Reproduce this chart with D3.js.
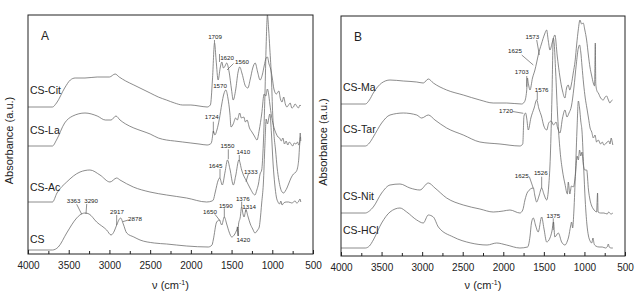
<!DOCTYPE html>
<html><head><meta charset="utf-8">
<script src="https://cdn.jsdelivr.net/npm/d3@7"></script>
<style>body{margin:0;background:#fff}svg{display:block}text{font-family:"Liberation Sans",Arial,sans-serif;fill:#222}</style>
</head><body><svg id="c" width="642" height="302"></svg>
<script>
// ---------- DATA ----------
const tickValues = [4000,3500,3000,2500,2000,1500,1000,500];
const minorTickValues = [3750,3250,2750,2250,1750,1250,750];
const seriesNamesA = ["CS-Cit","CS-La","CS-Ac","CS"];
const seriesNamesB = ["CS-Ma","CS-Tar","CS-Nit","CS-HCl"];

// [wavenumber cm-1, absorbance a.u. (offset-stacked)]
const csCit = [[4000,147],[3700,147],[3650,151],[3550,166],[3480,174],[3420,176],[3300,176],[3150,177],[3000,177],[2930,180],[2880,177],[2800,173],[2700,169],[2600,165],[2500,161],[2400,157],[2300,154],[2200,151],[2100,149],[2000,149],[1900,148],[1800,147],[1760,149],[1735,174],[1709,211],[1690,194],[1665,174],[1640,186],[1620,192],[1600,186],[1580,188],[1560,191],[1530,182],[1500,164],[1480,154],[1450,164],[1420,182],[1400,187],[1370,180],[1330,168],[1300,166],[1270,175],[1240,186],[1210,191],[1180,182],[1150,174],[1120,180],[1100,188],[1075,196],[1060,197],[1040,190],[1020,185],[1000,176],[980,165],[950,160],[920,163],[900,155],[880,152],[860,157],[840,150],[820,147],[800,149],[780,151],[760,146],[740,147],[720,150],[700,148],[680,146],[660,149],[650,148]];
const csLa = [[4000,108],[3700,108],[3650,114],[3550,131],[3450,138],[3300,141],[3150,138],[3050,134],[2980,134],[2920,138],[2870,134],[2800,130],[2700,126],[2600,123],[2500,120],[2400,116],[2300,114],[2200,113],[2100,112],[2000,111],[1900,110],[1800,109],[1760,110],[1745,112],[1730,120],[1724,123],[1705,119],[1680,124],[1650,135],[1620,150],[1595,160],[1570,164],[1545,156],[1520,140],[1507,127],[1480,130],[1450,136],[1430,134],[1400,141],[1380,136],[1350,137],[1330,132],[1310,134],[1280,126],[1250,122],[1220,118],[1188,114],[1160,124],[1130,140],[1100,160],[1080,158],[1060,165],[1045,160],[1030,150],[1010,138],[990,130],[970,124],[950,120],[930,117],[910,116],[890,113],[870,116],[850,110],[830,113],[810,109],[790,112],[770,110],[750,108],[730,111],[710,110],[690,112],[675,109],[665,111],[657,121],[650,113]];
const csAc = [[4000,52],[3700,52],[3644,61],[3525,72],[3361,82],[3239,84],[3116,79],[2993,72],[2911,76],[2870,74],[2707,67],[2502,62],[2297,59],[2052,56],[1806,52],[1740,53],[1725,54],[1700,62],[1663,74],[1645,76],[1614,69],[1580,82],[1550,94],[1520,85],[1478,69],[1450,78],[1410,94],[1376,84],[1350,78],[1323,74],[1274,66],[1213,59],[1190,64],[1170,70],[1150,80],[1130,84],[1110,110],[1090,160],[1075,210],[1060,239],[1045,225],[1030,205],[1010,175],[995,140],[980,120],[960,104],[940,86],[920,74],[900,66],[880,62],[860,61],[840,63],[820,66],[800,70],[770,76],[740,80],[710,82],[690,86],[675,95],[665,108],[655,117]];
const cs = [[4000,4],[3700,4],[3628,7],[3525,21],[3402,36],[3363,39],[3300,41],[3250,40],[3157,32],[3034,24],[2980,19],[2940,23],[2911,29],[2862,36],[2830,30],[2788,21],[2700,17],[2624,14],[2450,11],[2297,10],[2052,8],[1786,7],[1740,9],[1725,14],[1683,32],[1650,34],[1621,29],[1589,37],[1560,30],[1530,22],[1498,17],[1460,20],[1437,24],[1425,27],[1420,18],[1414,30],[1395,36],[1376,47],[1360,40],[1347,37],[1323,44],[1300,38],[1270,30],[1240,25],[1213,21],[1180,24],[1160,27],[1150,33],[1130,51],[1110,70],[1090,110],[1075,135],[1060,130],[1030,140],[1010,120],[990,90],[970,70],[950,57],[930,52],[910,50],[895,53],[880,49],[860,51],[830,52],[800,52],[760,51],[720,53],[700,51],[680,52],[660,55],[650,52]];

const csMa = [[4000,152],[3700,152],[3650,156],[3602,163],[3499,173],[3396,176],[3232,175],[3067,174],[2986,173],[2924,177],[2862,173],[2698,166],[2493,161],[2288,156],[2124,153],[1958,153],[1774,152],[1740,154],[1712,165],[1703,178],[1690,172],[1671,166],[1640,178],[1610,186],[1590,193],[1569,201],[1530,212],[1490,222],[1466,226],[1445,215],[1425,206],[1395,214],[1364,221],[1335,200],[1302,179],[1270,165],[1240,158],[1220,168],[1200,171],[1180,166],[1160,172],[1138,183],[1115,195],[1095,212],[1076,226],[1055,236],[1035,232],[1015,233],[995,226],[973,216],[950,200],[932,189],[910,180],[891,173],[875,170],[866,213],[860,172],[845,165],[829,163],[800,158],[768,156],[745,159],[727,160],[705,156],[686,153],[670,155],[653,156]];
const csTar = [[4000,110],[3700,110],[3650,113],[3602,119],[3499,133],[3396,141],[3232,143],[3067,141],[3006,138],[2924,141],[2842,136],[2698,128],[2493,121],[2288,114],[2041,112],[1795,110],[1760,112],[1745,140],[1725,143],[1710,137],[1692,126],[1660,138],[1620,148],[1589,156],[1560,147],[1530,140],[1500,130],[1465,126],[1440,133],[1410,135],[1380,131],[1350,134],[1330,128],[1302,123],[1270,138],[1240,146],[1215,139],[1190,143],[1160,150],[1130,168],[1100,192],[1075,208],[1060,211],[1045,204],[1030,190],[1010,172],[990,158],[970,148],[950,138],[930,128],[910,124],[890,118],[870,121],[850,114],[830,116],[800,112],[780,114],[760,111],[740,112],[720,114],[700,115],[685,112],[670,118],[660,115],[650,111]];
const csNit = [[4000,43],[3700,43],[3650,45],[3602,49],[3499,63],[3396,71],[3273,72],[3150,68],[3027,66],[2924,73],[2842,68],[2698,58],[2493,51],[2288,47],[2124,44],[2000,45],[1918,46],[1795,43],[1760,46],[1733,56],[1700,64],[1630,68],[1610,60],[1589,54],[1560,60],[1527,68],[1500,62],[1465,56],[1440,70],[1420,100],[1400,160],[1384,218],[1372,212],[1355,185],[1330,140],[1300,105],[1270,85],[1240,72],[1210,62],[1199,74],[1180,62],[1160,70],[1137,69],[1110,82],[1090,100],[1075,96],[1060,106],[1045,100],[1030,104],[1015,92],[995,86],[972,86],[950,66],[931,56],[910,50],[890,47],[870,45],[850,44],[838,63],[832,44],[800,43],[760,43],[720,42],[700,44],[690,43],[670,42],[650,43]];
const csHCl = [[4000,8],[3700,8],[3650,10],[3602,16],[3499,33],[3396,44],[3273,48],[3190,44],[3067,36],[2986,33],[2924,41],[2862,39],[2800,29],[2616,19],[2400,13],[2200,11],[2082,13],[1960,11],[1795,8],[1700,9],[1670,20],[1653,33],[1630,38],[1600,30],[1570,24],[1527,39],[1500,28],[1465,14],[1425,18],[1400,25],[1381,34],[1365,19],[1322,23],[1281,14],[1240,11],[1210,15],[1195,19],[1170,30],[1158,34],[1145,28],[1130,45],[1110,85],[1090,130],[1075,155],[1060,148],[1045,135],[1030,125],[1010,90],[990,55],[970,32],[950,20],[930,15],[910,13],[895,18],[880,12],[860,10],[820,9],[780,9],[740,8],[720,9],[705,12],[695,9],[670,8],[650,8]];

// peak annotations: [text, textWn, textAbs, leaderWn1, leaderAbs1, leaderWn2, leaderAbs2]
const notesA = [
 ["1709",1703,215.5,1710,214,1710,211],
 ["1620",1556,194.5,1648,200,1648,192],
 ["1560",1372,190.5,1476,190.5,1556,184],
 ["1570",1642,166,null,null,null,null],
 ["1724",1744,135,1724,132.3,1724,120.7],
 ["1550",1550,106.5,1540,104.7,1540,94.7],
 ["1410",1356,100,1405,99,1405,93.3],
 ["1645",1697,86.5,1642,85,1642,75.7],
 ["1333",1264,80.5,1294,80,1323,72.3],
 ["3363",3440,51,3402,49.7,3340,39.7],
 ["3290",3225,51,3279,50,3288,40],
 ["2917",2907,40.5,2911,39,2911,29],
 ["2878",2686,33.2,2768,34,2837,32.3],
 ["1650",1765,40.5,1704,39.7,1642,33.3],
 ["1590",1571,46.5,1589,45.7,1589,36.7],
 ["1376",1362,53.2,1376,52.3,1376,46.7],
 ["1314",1284,45.5,1323,46,1323,42.3],
 ["1420",1356,12.2,1417,18,1430,27.3]
];
const notesB = [
 ["1573",1642,216.8,1588,216,1556,201],
 ["1625",1856,203.5,1773,201,1630,191],
 ["1703",1773,181.8,1711,180,1711,169.3],
 ["1576",1527,164.2,1581,164,1581,156],
 ["1720",1967,143.5,1884,144.5,1753,142.7],
 ["1625",1773,78.5,1679,79.3,1630,67.7],
 ["1526",1538,81.2,1527,79.3,1527,67.7],
 ["1375",1384,38.5,1384,37.7,1384,26]
];
// series label anchors (wn, abs)
const labelPosA = [[3975,160],[3975,120],[3975,63],[3975,11]];
const labelPosB = [[3975,165],[3975,123],[3975,56],[3975,22]];

// ---------- DRAW ----------
const svg = d3.select("#c");
const panels = [
  {id:"A", left:28, right:313, top:15, bottom:254, series:[csCit,csLa,csAc,cs], names:seriesNamesA, labelPos:labelPosA, notes:notesA, ylabX:13},
  {id:"B", left:341, right:625, top:16, bottom:256, series:[csMa,csTar,csNit,csHCl], names:seriesNamesB, labelPos:labelPosB, notes:notesB, ylabX:327}
];

panels.forEach((p,pi) => {
  const x = d3.scaleLinear().domain([4000,500]).range([p.left,p.right]);
  const h = p.bottom - p.top;
  const y = d3.scaleLinear().domain([0,h]).range([p.bottom,p.top]);
  const g = svg.append("g");
  const clipId = "clip"+pi;
  svg.append("clipPath").attr("id",clipId).append("rect")
    .attr("x",p.left).attr("y",p.top).attr("width",p.right-p.left).attr("height",h);

  const line = d3.line().x(d=>x(d[0])).y(d=>y(d[1])).curve(d3.curveMonotoneX);
  g.append("g").attr("clip-path",`url(#${clipId})`).selectAll("path").data(p.series).join("path")
    .attr("d",d=>line(d)).attr("fill","none").attr("stroke","#666").attr("stroke-width",0.75);

  // frame
  g.append("rect").attr("x",p.left).attr("y",p.top).attr("width",p.right-p.left).attr("height",h)
    .attr("fill","none").attr("stroke","#222").attr("stroke-width",1);

  // bottom axis, inward ticks
  const ax = d3.axisBottom(x).tickValues(tickValues).tickSize(-4).tickPadding(8).tickFormat(d3.format("d"));
  const axg = g.append("g").attr("transform",`translate(0,${p.bottom})`).call(ax);
  axg.select(".domain").remove();
  axg.selectAll("line").attr("stroke","#222");
  axg.selectAll("text").attr("font-size",10).attr("font-family","Liberation Sans, Arial, sans-serif").attr("fill","#222");
  const axm = d3.axisBottom(x).tickValues(minorTickValues).tickSize(-3).tickFormat("");
  const amg = g.append("g").attr("transform",`translate(0,${p.bottom})`).call(axm);
  amg.select(".domain").remove();
  amg.selectAll("line").attr("stroke","#222");

  // x title
  const xt = g.append("text").attr("x",(p.left+p.right)/2).attr("y",289).attr("text-anchor","middle").attr("font-size",11);
  xt.append("tspan").text("ν (cm");
  xt.append("tspan").attr("dy",-4).attr("font-size",7).text("-1");
  xt.append("tspan").attr("dy",4).text(")");

  // y title
  g.append("text").attr("transform",`translate(${p.ylabX},${(p.top+p.bottom)/2+6}) rotate(-90)`)
    .attr("text-anchor","middle").attr("font-size",11).text("Absorbance (a.u.)");

  // panel letter
  g.append("text").attr("x",p.left+17).attr("y",p.top+25).attr("text-anchor","middle").attr("font-size",12).text(p.id);

  // series labels
  g.selectAll("text.sl").data(p.names).join("text").attr("class","sl")
    .attr("x",(d,i)=>x(p.labelPos[i][0])).attr("y",(d,i)=>y(p.labelPos[i][1]))
    .attr("font-size",10.5).text(d=>d);

  // annotations
  const ng = g.append("g");
  p.notes.forEach(n => {
    ng.append("text").attr("x",x(n[1])).attr("y",y(n[2])).attr("text-anchor","middle")
      .attr("font-size",6.2).text(n[0]);
    if (n[3]!==null) {
      ng.append("line").attr("x1",x(n[3])).attr("y1",y(n[4])).attr("x2",x(n[5])).attr("y2",y(n[6]))
        .attr("stroke","#444").attr("stroke-width",0.6);
    }
  });
});
</script></body></html>
